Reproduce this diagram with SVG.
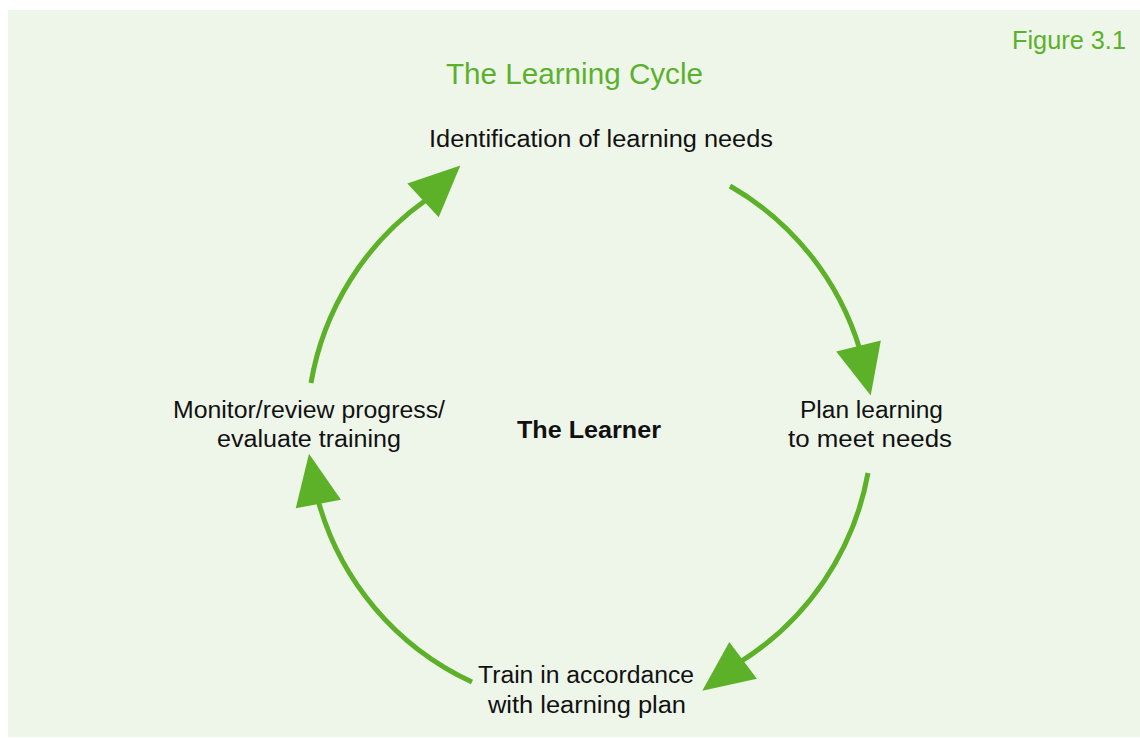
<svg xmlns="http://www.w3.org/2000/svg" width="1140" height="738" viewBox="0 0 1140 738">
<style>
.bg{fill:#eef6ea}
.t{font-family:"Liberation Sans",Arial,sans-serif;fill:#111;font-size:23px}
.g{font-family:"Liberation Sans",Arial,sans-serif;fill:#5cb12c}
.b{font-weight:bold}
.arc{fill:none;stroke:#5db128;stroke-width:5}
.head{fill:#5db128}
</style>
<defs>
<path id="tri" d="M-2,-23 L49,0 L-2,23 Z"/>
</defs>
<rect class="bg" x="8" y="10" width="1132" height="727"/>
<text class="g" x="1012" y="49" font-size="26" textLength="114" lengthAdjust="spacingAndGlyphs">Figure 3.1</text>
<text class="g" x="446" y="84" font-size="29" textLength="257" lengthAdjust="spacingAndGlyphs">The Learning Cycle</text>
<g id="connectors">
<path class="arc" d="M311,383 A282,282 0 0 1 426,200"/>
<use class="head" href="#tri" transform="translate(424.5,199) rotate(-43)"/>
<path class="arc" d="M730,186 A282,282 0 0 1 860,350"/>
<use class="head" href="#tri" transform="translate(859,348) rotate(76.2)"/>
<path class="arc" d="M868,473 A282,282 0 0 1 740,662"/>
<use class="head" href="#tri" transform="translate(741.5,661.5) rotate(143.2)"/>
<path class="arc" d="M472,682 A282,282 0 0 1 318,500"/>
<use class="head" href="#tri" transform="translate(318,502) rotate(-100.6)"/>
</g>
<g id="node-identify">
<text class="t" x="429" y="147" textLength="344" lengthAdjust="spacingAndGlyphs">Identification of learning needs</text>
</g>
<g id="node-plan">
<text class="t" x="800" y="418" textLength="143" lengthAdjust="spacingAndGlyphs">Plan learning</text>
<text class="t" x="788" y="447" textLength="164" lengthAdjust="spacingAndGlyphs">to meet needs</text>
</g>
<g id="node-train">
<text class="t" x="478" y="683" textLength="216" lengthAdjust="spacingAndGlyphs">Train in accordance</text>
<text class="t" x="488" y="713" textLength="198" lengthAdjust="spacingAndGlyphs">with learning plan</text>
</g>
<g id="node-monitor">
<text class="t" x="173" y="418" textLength="272" lengthAdjust="spacingAndGlyphs">Monitor/review progress/</text>
<text class="t" x="217" y="447" textLength="184" lengthAdjust="spacingAndGlyphs">evaluate training</text>
</g>
<g id="node-learner">
<text class="t b" x="517" y="438" font-size="24" textLength="144" lengthAdjust="spacingAndGlyphs">The Learner</text>
</g>
</svg>
